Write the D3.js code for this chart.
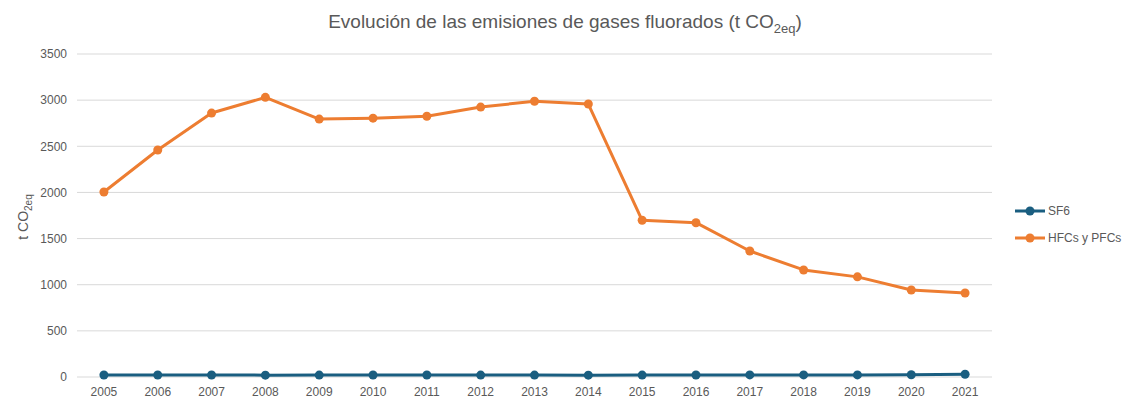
<!DOCTYPE html>
<html><head><meta charset="utf-8">
<script src="https://cdn.jsdelivr.net/npm/d3@7"></script>
<style>body{margin:0;background:#fff}svg{display:block}text{font-family:"Liberation Sans Narrow","Arial Narrow","Liberation Sans",sans-serif;fill:#595959}</style>
</head><body><svg id="c" width="1124" height="400"></svg>
<script>
const years = ["2005","2006","2007","2008","2009","2010","2011","2012","2013","2014","2015","2016","2017","2018","2019","2020","2021"];
const sf6 = [22,22,22,20,21,22,22,21,21,20,21,22,23,23,23,24,30];
const hfcs = [2005,2460,2860,3030,2795,2805,2825,2925,2988,2958,1698,1672,1365,1160,1085,943,910];
const yTicks = [0,500,1000,1500,2000,2500,3000,3500];
const series = [{name:"SF6", values:sf6, color:"#1a5e80"},{name:"HFCs y PFCs", values:hfcs, color:"#ed7d31"}];

const svg = d3.select("#c");
const x = d3.scaleBand().domain(years).range([77,992]);
const y = d3.scaleLinear().domain([0,3500]).range([377,54]);

svg.append("g").selectAll("line").data(yTicks).join("line")
  .attr("x1",77).attr("x2",992).attr("y1",d=>y(d)).attr("y2",d=>y(d))
  .attr("stroke","#d9d9d9").attr("stroke-width",1);

const ya = svg.append("g").attr("transform","translate(77,0)").call(d3.axisLeft(y).tickValues(yTicks).tickFormat(d3.format("d")).tickSize(0).tickPadding(10));
ya.select(".domain").remove();
ya.selectAll("text").style("font-size","12px").attr("fill","#595959");

const xa = svg.append("g").attr("transform","translate(0,377)").call(d3.axisBottom(x).tickSize(0).tickPadding(10));
xa.select(".domain").remove();
xa.selectAll("text").style("font-size","12px").attr("fill","#595959");

const line = d3.line().x((d,i)=>x(years[i])+x.bandwidth()/2).y(d=>y(d));
series.forEach(s=>{
  svg.append("path").attr("d",line(s.values)).attr("fill","none").attr("stroke",s.color).attr("stroke-width",3).attr("stroke-linejoin","round");
  svg.append("g").selectAll("circle").data(s.values).join("circle")
    .attr("cx",(d,i)=>x(years[i])+x.bandwidth()/2).attr("cy",d=>y(d)).attr("r",4.5).attr("fill",s.color);
});

const t = svg.append("text").attr("x",565).attr("y",28).attr("text-anchor","middle").style("font-size","19px");
t.append("tspan").text("Evolución de las emisiones de gases fluorados (t CO");
t.append("tspan").attr("dy",5).style("font-size","13px").text("2eq");
t.append("tspan").attr("dy",-5).text(")");

const yl = svg.append("text").attr("transform","translate(28,217) rotate(-90)").attr("text-anchor","middle").style("font-size","14px");
yl.append("tspan").text("t CO");
yl.append("tspan").attr("dy",4).style("font-size","10px").text("2eq");

const lg = svg.append("g").selectAll("g").data(series).join("g").attr("transform",(d,i)=>`translate(1015,${211+i*27})`);
lg.append("line").attr("x1",0).attr("x2",30).attr("stroke",d=>d.color).attr("stroke-width",3);
lg.append("circle").attr("cx",15).attr("r",4.5).attr("fill",d=>d.color);
lg.append("text").attr("x",33).attr("dy","0.35em").style("font-size","12px").text(d=>d.name);
</script></body></html>
